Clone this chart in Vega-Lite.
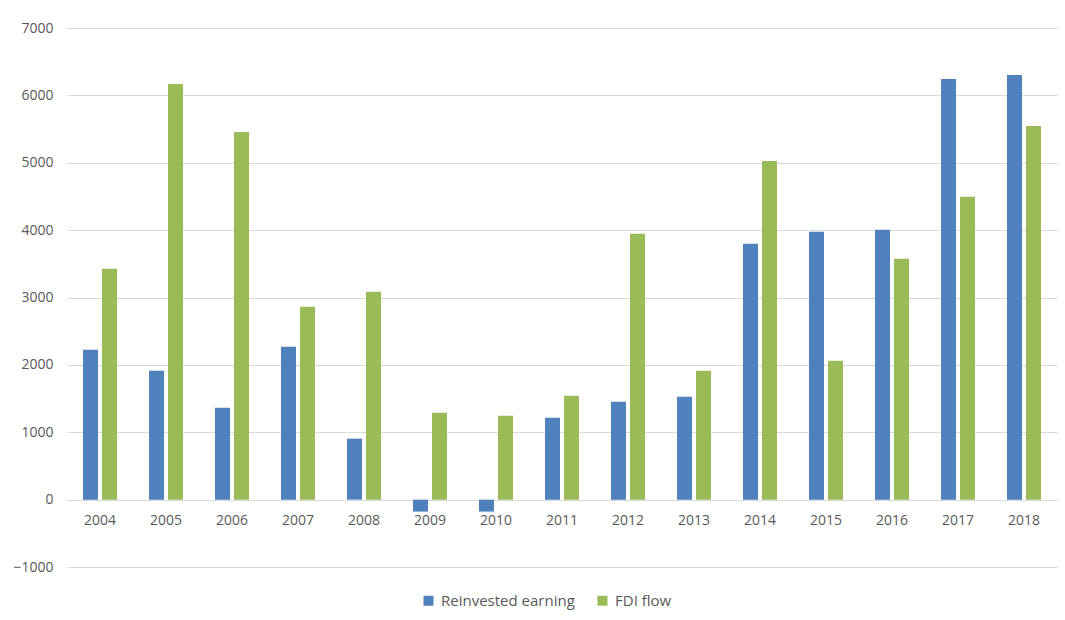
{
  "$schema": "https://vega.github.io/schema/vega-lite/v6.json",
  "width": 990,
  "height": 539,
  "autosize": {"type": "none"},
  "padding": {"left": 67, "top": 28, "right": 9, "bottom": 53},
  "background": "white",
  "data": {
    "values": [
      {"year": "2004", "series": "Reinvested earning", "value": 2225},
      {"year": "2004", "series": "FDI flow", "value": 3426},
      {"year": "2005", "series": "Reinvested earning", "value": 1913},
      {"year": "2005", "series": "FDI flow", "value": 6169},
      {"year": "2006", "series": "Reinvested earning", "value": 1364},
      {"year": "2006", "series": "FDI flow", "value": 5458},
      {"year": "2007", "series": "Reinvested earning", "value": 2269},
      {"year": "2007", "series": "FDI flow", "value": 2862},
      {"year": "2008", "series": "Reinvested earning", "value": 905},
      {"year": "2008", "series": "FDI flow", "value": 3085},
      {"year": "2009", "series": "Reinvested earning", "value": -178},
      {"year": "2009", "series": "FDI flow", "value": 1290},
      {"year": "2010", "series": "Reinvested earning", "value": -178},
      {"year": "2010", "series": "FDI flow", "value": 1246},
      {"year": "2011", "series": "Reinvested earning", "value": 1216},
      {"year": "2011", "series": "FDI flow", "value": 1542},
      {"year": "2012", "series": "Reinvested earning", "value": 1453},
      {"year": "2012", "series": "FDI flow", "value": 3945},
      {"year": "2013", "series": "Reinvested earning", "value": 1527},
      {"year": "2013", "series": "FDI flow", "value": 1913},
      {"year": "2014", "series": "Reinvested earning", "value": 3797},
      {"year": "2014", "series": "FDI flow", "value": 5027},
      {"year": "2015", "series": "Reinvested earning", "value": 3975},
      {"year": "2015", "series": "FDI flow", "value": 2061},
      {"year": "2016", "series": "Reinvested earning", "value": 4004},
      {"year": "2016", "series": "FDI flow", "value": 3574},
      {"year": "2017", "series": "Reinvested earning", "value": 6243},
      {"year": "2017", "series": "FDI flow", "value": 4494},
      {"year": "2018", "series": "Reinvested earning", "value": 6303},
      {"year": "2018", "series": "FDI flow", "value": 5546}
    ]
  },
  "mark": {"type": "bar"},
  "encoding": {
    "x": {
      "field": "year",
      "type": "nominal",
      "scale": {"paddingInner": 0.485, "paddingOuter": 0.2425},
      "axis": {
        "title": null,
        "labelAngle": 0,
        "offset": -67,
        "domainColor": "#d9d9d9",
        "domainWidth": 1,
        "ticks": false,
        "labelPadding": 13,
        "labelFont": "Open Sans",
        "labelFontSize": 14,
        "labelColor": "#595959"
      }
    },
    "xOffset": {
      "field": "series",
      "type": "nominal",
      "sort": ["Reinvested earning", "FDI flow"],
      "scale": {"paddingInner": 0.21, "paddingOuter": 0}
    },
    "y": {
      "field": "value",
      "type": "quantitative",
      "scale": {"domain": [-1000, 7000], "nice": false, "zero": false},
      "axis": {
        "title": null,
        "values": [-1000, 0, 1000, 2000, 3000, 4000, 5000, 6000, 7000],
        "format": "d",
        "domain": false,
        "ticks": false,
        "gridColor": "#d9d9d9",
        "gridWidth": 1,
        "labelPadding": 14,
        "labelFont": "Open Sans",
        "labelFontSize": 14,
        "labelColor": "#595959"
      }
    },
    "color": {
      "field": "series",
      "type": "nominal",
      "sort": ["Reinvested earning", "FDI flow"],
      "scale": {"domain": ["Reinvested earning", "FDI flow"], "range": ["#4f81bd", "#9bbb59"]},
      "legend": {
        "title": null,
        "orient": "none",
        "direction": "horizontal",
        "legendX": 354,
        "legendY": 565,
        "symbolType": "square",
        "symbolSize": 100,
        "symbolStrokeWidth": 0,
        "labelOffset": 5,
        "columnPadding": 20,
        "labelFont": "Open Sans",
        "labelFontSize": 15,
        "labelColor": "#595959"
      }
    }
  },
  "config": {
    "view": {"stroke": null}
  }
}
